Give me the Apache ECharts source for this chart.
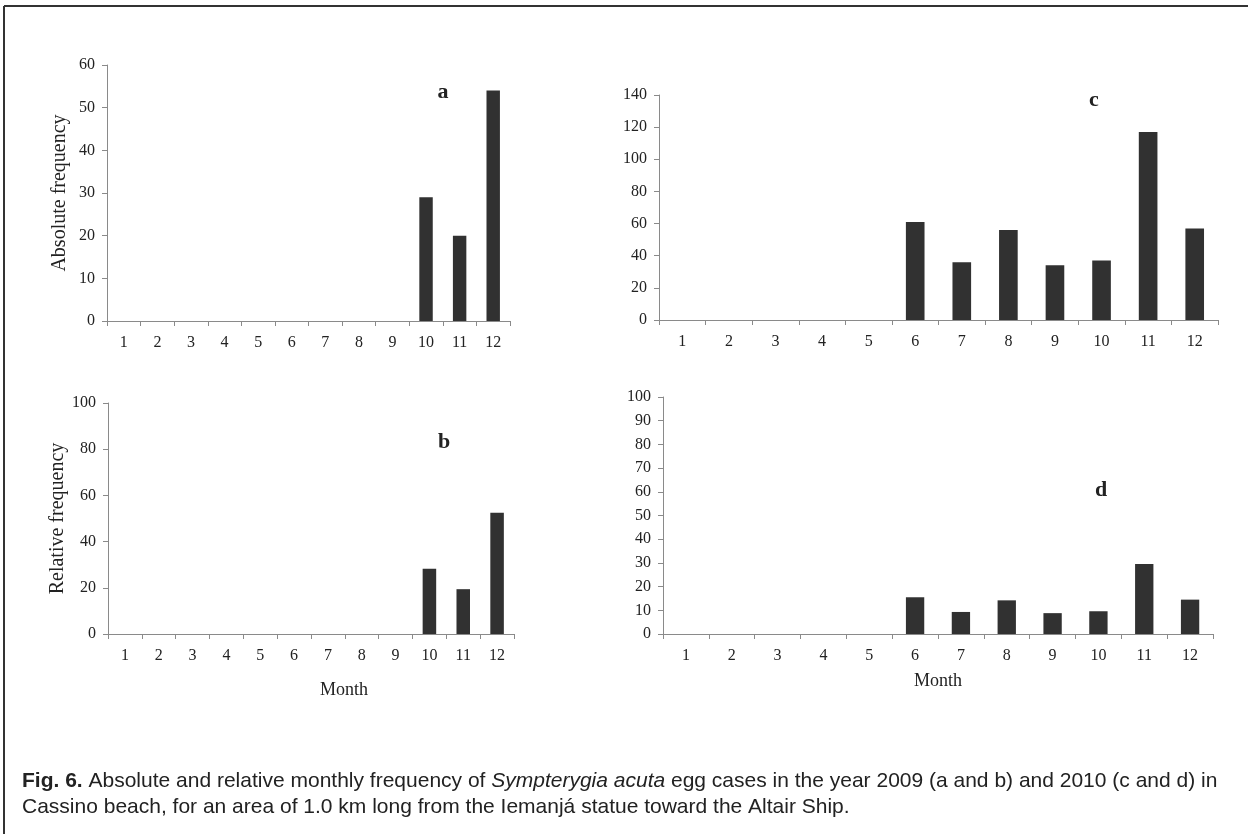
<!DOCTYPE html>
<html>
<head>
<meta charset="utf-8">
<script src="https://cdn.jsdelivr.net/npm/echarts@6/dist/echarts.min.js"></script>
<style>
html,body{margin:0;padding:0;background:#fff;}
#chart{width:1248px;height:834px;}
</style>
</head>
<body>
<div id="chart"></div>
<script>
const months = ['1','2','3','4','5','6','7','8','9','10','11','12'];
const absFreq2009 = [0,0,0,0,0,0,0,0,0,29,20,54];
const relFreq2009 = [0,0,0,0,0,0,0,0,0,28.3,19.4,52.5];
const absFreq2010 = [0,0,0,0,0,61,36,56,34,37,117,57];
const relFreq2010 = [0,0,0,0,0,15.5,9.3,14.2,8.8,9.6,29.5,14.5];
const panelLetters = ['a','b','c','d'];
const yNames = ['Absolute frequency','Relative frequency','',''];
const xName = 'Month';

const serif = '"Liberation Serif","Times New Roman",serif';
const sans = '"Liberation Sans",Arial,Helvetica,sans-serif';
const axisColor = '#8a8a8a';
const textColor = '#222';
const barColor = '#313131';

const grids = [
  {left:107, right:738, top:65, bottom:513},
  {left:108, right:734, top:403, bottom:200},
  {left:659, right:30, top:95, bottom:514},
  {left:663, right:35, top:397, bottom:200}
];
const yRanges = [[0,60,10],[0,100,20],[0,140,20],[0,100,10]];
const dataSets = [absFreq2009, relFreq2009, absFreq2010, relFreq2010];

const xAxes = grids.map((g,i)=>({
  type:'category', gridIndex:i, data:months,
  axisLine:{lineStyle:{color:axisColor,width:1}},
  axisTick:{show:true, length:5, alignWithLabel:false, lineStyle:{color:axisColor}},
  axisLabel:{color:textColor, fontFamily:serif, fontSize:16, margin:14, interval:0}
}));
const yAxes = grids.map((g,i)=>({
  type:'value', gridIndex:i, min:yRanges[i][0], max:yRanges[i][1], interval:yRanges[i][2],
  axisLine:{show:true, lineStyle:{color:axisColor,width:1}},
  axisTick:{show:true, length:5, lineStyle:{color:axisColor}},
  splitLine:{show:false},
  axisLabel:{color:textColor, fontFamily:serif, fontSize:16, margin:12},
  name:yNames[i], nameLocation:'middle', nameGap:37,
  nameTextStyle:{color:textColor, fontFamily:serif, fontSize:20}
}));
const series = dataSets.map((d,i)=>({
  type:'bar', xAxisIndex:i, yAxisIndex:i, data:d, barWidth:'40%',
  itemStyle:{color:barColor, borderWidth:0},
  silent:true, animation:false
}));

const letterPos = [[443,92],[444,442],[1094,100],[1101,490]];
const monthPos = [[344,690],[938,681]];
const graphics = [
  {type:'line', shape:{x1:4,y1:6,x2:1248,y2:6}, style:{stroke:'#333',lineWidth:2}},
  {type:'line', shape:{x1:4,y1:6,x2:4,y2:834}, style:{stroke:'#333',lineWidth:2}}
];
panelLetters.forEach((l,i)=>{
  graphics.push({type:'text', x:letterPos[i][0], y:letterPos[i][1],
    style:{text:l, font:'bold 22px '+serif, fill:'#222', textAlign:'center', textVerticalAlign:'middle'}});
});
monthPos.forEach(p=>{
  graphics.push({type:'text', x:p[0], y:p[1],
    style:{text:xName, font:'18px '+serif, fill:'#222', textAlign:'center', textVerticalAlign:'middle'}});
});
graphics.push({type:'text', x:22, y:794,
  style:{
    text:'{b|Fig. 6.} Absolute and relative monthly frequency of {i|Sympterygia acuta} egg cases in the year 2009 (a and b) and 2010 (c and d) in\nCassino beach, for an area of 1.0 km long from the Iemanjá statue toward the Altair Ship.',
    fontFamily:sans, fontSize:21, fill:'#222', lineHeight:26, textVerticalAlign:'middle',
    rich:{
      b:{fontFamily:sans, fontSize:21, fontWeight:'bold', fill:'#222', lineHeight:26},
      i:{fontFamily:sans, fontSize:21, fontStyle:'italic', fill:'#222', lineHeight:26}
    }
  }
});

const chart = echarts.init(document.getElementById('chart'), null, {renderer:'canvas'});
chart.setOption({
  animation:false,
  backgroundColor:'#fff',
  grid:grids,
  xAxis:xAxes,
  yAxis:yAxes,
  series:series,
  graphic:graphics
});
</script>
</body>
</html>
